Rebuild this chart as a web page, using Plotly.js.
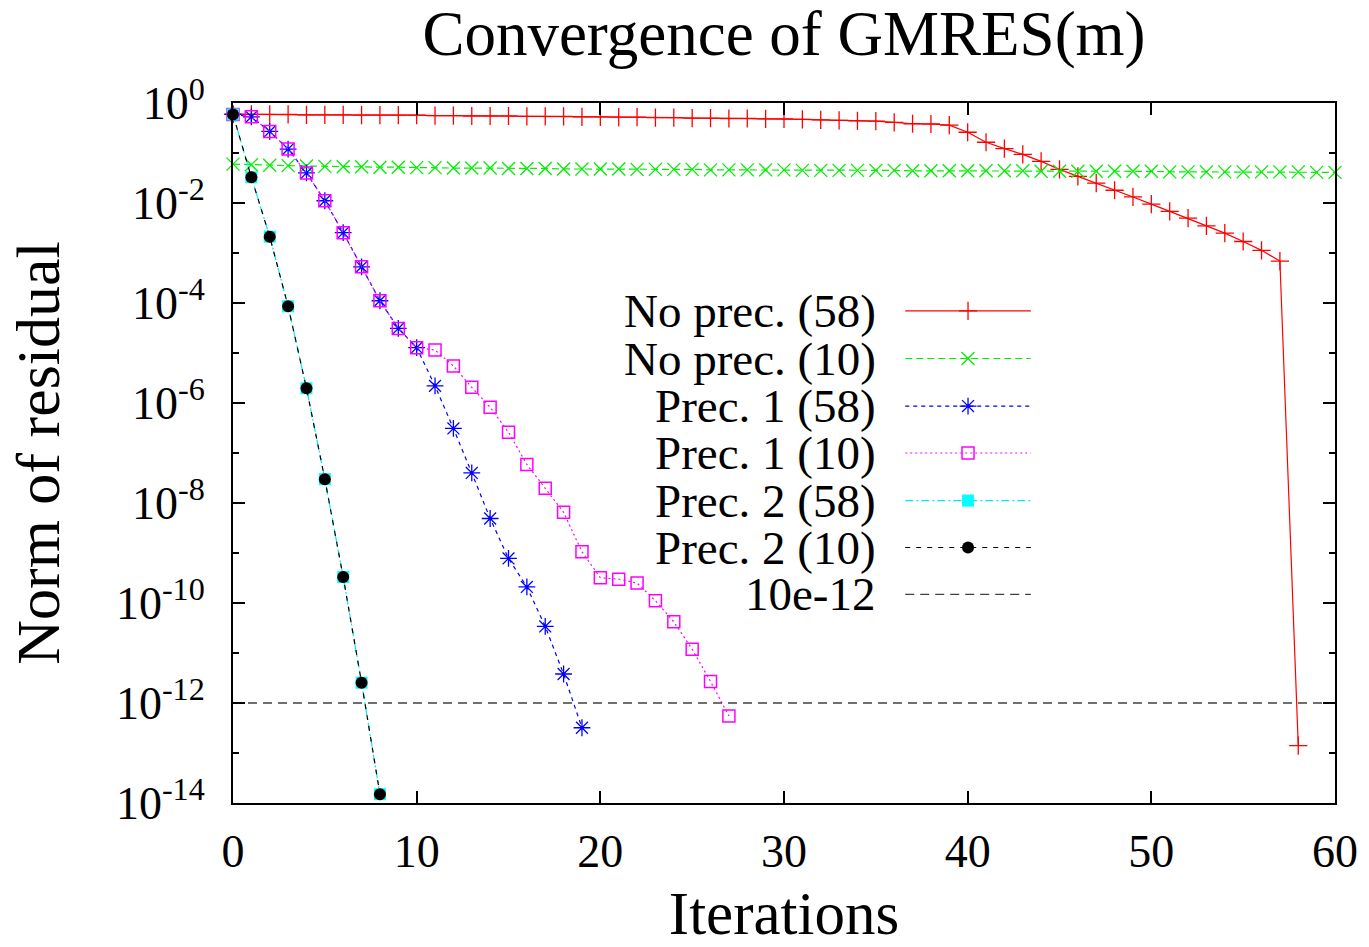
<!DOCTYPE html>
<html><head><meta charset="utf-8">
<script src="https://cdn.plot.ly/plotly-3.0.1.min.js"></script>
<style>html,body{margin:0;padding:0;background:#fff}#chart{width:1369px;height:947px}</style>
</head><body><div id="chart"></div>
<script>
// ---------------- data ----------------
const itersNoPrec58 = [0,1,2,3,4,5,6,7,8,9,10,11,12,13,14,15,16,17,18,19,20,21,22,23,24,25,26,27,28,29,30,31,32,33,34,35,36,37,38,39,40,41,42,43,44,45,46,47,48,49,50,51,52,53,54,55,56,57,58];
const residNoPrec58 = [0.60,0.59,0.59,0.59,0.58,0.58,0.58,0.57,0.57,0.57,0.57,0.56,0.56,0.55,0.55,0.55,0.54,0.54,0.54,0.53,0.53,0.52,0.52,0.51,0.51,0.50,0.50,0.49,0.49,0.48,0.48,0.47,0.46,0.45,0.44,0.435,0.41,0.385,0.38,0.36,0.26,0.164,0.122,0.094,0.068,0.047,0.034,0.025,0.018,0.0132,0.0095,0.0068,0.0050,0.0035,0.0025,0.0017,0.00113,0.00069,1.4e-13];

const itersNoPrec10 = [0,1,2,3,4,5,6,7,8,9,10,11,12,13,14,15,16,17,18,19,20,21,22,23,24,25,26,27,28,29,30,31,32,33,34,35,36,37,38,39,40,41,42,43,44,45,46,47,48,49,50,51,52,53,54,55,56,57,58,59,60];
const residNoPrec10 = [0.060,0.058,0.057,0.056,0.055,0.054,0.053,0.053,0.052,0.052,0.051,0.051,0.050,0.050,0.050,0.049,0.049,0.049,0.048,0.048,0.048,0.048,0.047,0.047,0.047,0.047,0.046,0.046,0.046,0.046,0.046,0.045,0.045,0.045,0.045,0.045,0.045,0.044,0.044,0.044,0.044,0.044,0.044,0.044,0.043,0.043,0.043,0.043,0.043,0.043,0.043,0.042,0.042,0.042,0.042,0.042,0.042,0.042,0.042,0.041,0.041];

const itersPrec1_58 = [0,1,2,3,4,5,6,7,8,9,10,11,12,13,14,15,16,17,18,19];
const residPrec1_58 = [0.59,0.53,0.27,0.12,0.040,0.0111,0.00255,5.3e-4,1.11e-4,3.1e-5,1.28e-5,2.2e-6,3.1e-7,4.0e-8,4.9e-9,7.8e-10,2.1e-10,3.4e-11,3.8e-12,3.2e-13];

const itersPrec1_10 = [0,1,2,3,4,5,6,7,8,9,10,11,12,13,14,15,16,17,18,19,20,21,22,23,24,25,26,27];
const residPrec1_10 = [0.59,0.53,0.27,0.12,0.040,0.0111,0.00255,5.3e-4,1.11e-4,3.1e-5,1.28e-5,1.15e-5,5.5e-6,2.06e-6,8.2e-7,2.6e-7,5.9e-8,1.97e-8,6.5e-9,1.06e-9,3.2e-10,3.0e-10,2.5e-10,1.11e-10,4.2e-11,1.19e-11,2.7e-12,5.5e-13];

const itersPrec2_58 = [0,1,2,3,4,5,6,7,8];
const residPrec2_58 = [0.59,0.0327,0.00212,8.6e-5,1.97e-6,3.0e-8,3.3e-10,2.55e-12,1.5e-14];

const itersPrec2_10 = [0,1,2,3,4,5,6,7,8];
const residPrec2_10 = [0.59,0.0327,0.00212,8.6e-5,1.97e-6,3.0e-8,3.3e-10,2.55e-12,1.5e-14];

const toleranceX = [0, 60];
const toleranceY = [1e-12, 1e-12];

const seriesNames = ["No prec. (58)","No prec. (10)","Prec. 1 (58)","Prec. 1 (10)","Prec. 2 (58)","Prec. 2 (10)","10e-12"];

const xTickVals = [0,10,20,30,40,50,60];
const yTickVals = [1,1e-2,1e-4,1e-6,1e-8,1e-10,1e-12,1e-14];
const yTickText = ["10<sup>0</sup>","10<sup>-2</sup>","10<sup>-4</sup>","10<sup>-6</sup>","10<sup>-8</sup>","10<sup>-10</sup>","10<sup>-12</sup>","10<sup>-14</sup>"];
const yMinorVals = [1e-1,1e-3,1e-5,1e-7,1e-9,1e-11,1e-13];

// ---------------- styles ----------------
const FONT = "Liberation Serif, Times New Roman, serif";
const styles = [
  {line:{color:"#ff0000",width:1.2,dash:"solid"}, marker:{symbol:"cross-thin-open",size:13,line:{color:"#ff0000",width:1.3}}},
  {line:{color:"#00ee00",width:1.2,dash:"7px,4px"}, marker:{symbol:"x-thin-open",size:13,line:{color:"#00ee00",width:1.3}}},
  {line:{color:"#0000ff",width:1.2,dash:"4px,4px"}, marker:{symbol:"asterisk-open",size:14,line:{color:"#0000ff",width:1.3}}},
  {line:{color:"#ff00ff",width:1.2,dash:"2px,3px"}, marker:{symbol:"square-open",size:12,line:{color:"#ff00ff",width:1.5}}},
  {line:{color:"#00eeee",width:1.2,dash:"8px,3px,2px,3px"}, marker:{symbol:"square",size:12,color:"#00ffff",line:{width:0}}},
  {line:{color:"#000000",width:1.2,dash:"5px,6px"}, marker:{symbol:"circle",size:12,color:"#000000",line:{width:0}}},
  {line:{color:"#404040",width:1.3,dash:"9px,6px"}}
];

const dataX = [itersNoPrec58, itersNoPrec10, itersPrec1_58, itersPrec1_10, itersPrec2_58, itersPrec2_10, toleranceX];
const dataY = [residNoPrec58, residNoPrec10, residPrec1_58, residPrec1_10, residPrec2_58, residPrec2_10, toleranceY];

const traces = [];
for (let i = 0; i < 7; i++) {
  const t = {
    type: "scatter", x: dataX[i], y: dataY[i], name: seriesNames[i],
    mode: i === 6 ? "lines" : "lines+markers",
    line: styles[i].line, cliponaxis: false, showlegend: false, hoverinfo: "skip"
  };
  if (styles[i].marker) t.marker = styles[i].marker;
  traces.push(t);
}

// ---------------- key (gnuplot-style: text on left, sample on right) ----------------
const keyRows = [0.703, 0.635, 0.567, 0.500, 0.432, 0.365, 0.298];
const keyX0 = 0.610, keyXm = 0.667, keyX1 = 0.724, keyTextX = 0.585;
const annotations = [];
for (let i = 0; i < 7; i++) {
  const s = {
    type: "scatter", xaxis: "x2", yaxis: "y2",
    x: [keyX0, keyXm, keyX1], y: [keyRows[i], keyRows[i], keyRows[i]],
    mode: i === 6 ? "lines" : "lines+markers",
    line: styles[i].line, showlegend: false, hoverinfo: "skip", cliponaxis: false
  };
  if (styles[i].marker) s.marker = Object.assign({}, styles[i].marker, {opacity: [0, 1, 0]});
  traces.push(s);
  annotations.push({
    xref: "x2", yref: "y2", x: keyTextX, y: keyRows[i], xanchor: "right", yanchor: "middle",
    text: seriesNames[i], showarrow: false, font: {family: FONT, size: 47, color: "#000"}
  });
}

const axisCommon = {
  showline: true, linecolor: "#000", linewidth: 2, mirror: "allticks",
  ticks: "inside", ticklen: 12, tickwidth: 2, tickcolor: "#000",
  showgrid: false, zeroline: false,
  tickfont: {family: FONT, size: 46, color: "#000"}
};

const layout = {
  width: 1369, height: 947,
  margin: {l: 233, r: 34, t: 103, b: 144},
  paper_bgcolor: "#fff", plot_bgcolor: "#fff",
  showlegend: false,
  title: {text: "Convergence of GMRES(m)", font: {family: FONT, size: 63, color: "#000"},
          xref: "paper", x: 0.5, xanchor: "center", yref: "container", y: 0.965, yanchor: "middle"},
  xaxis: Object.assign({}, axisCommon, {
    range: [0, 60], tickvals: xTickVals, ticklabelstandoff: 7,
    title: {text: "Iterations", font: {family: FONT, size: 61, color: "#000"}, standoff: 30}
  }),
  yaxis: Object.assign({}, axisCommon, {
    type: "log", range: [-14, 0], tickvals: yTickVals, ticktext: yTickText, ticklabelstandoff: 17,
    minor: {tickvals: yMinorVals, ticks: "inside", ticklen: 6, tickwidth: 2, tickcolor: "#000", showgrid: false},
    title: {text: "Norm of residual", font: {family: FONT, size: 62, color: "#000"}, standoff: 36}
  }),
  xaxis2: {overlaying: "x", anchor: "y2", range: [0, 1], visible: false},
  yaxis2: {overlaying: "y", anchor: "x2", range: [0, 1], visible: false},
  annotations: annotations
};

Plotly.newPlot("chart", traces, layout, {displayModeBar: false, staticPlot: true});
</script></body></html>
